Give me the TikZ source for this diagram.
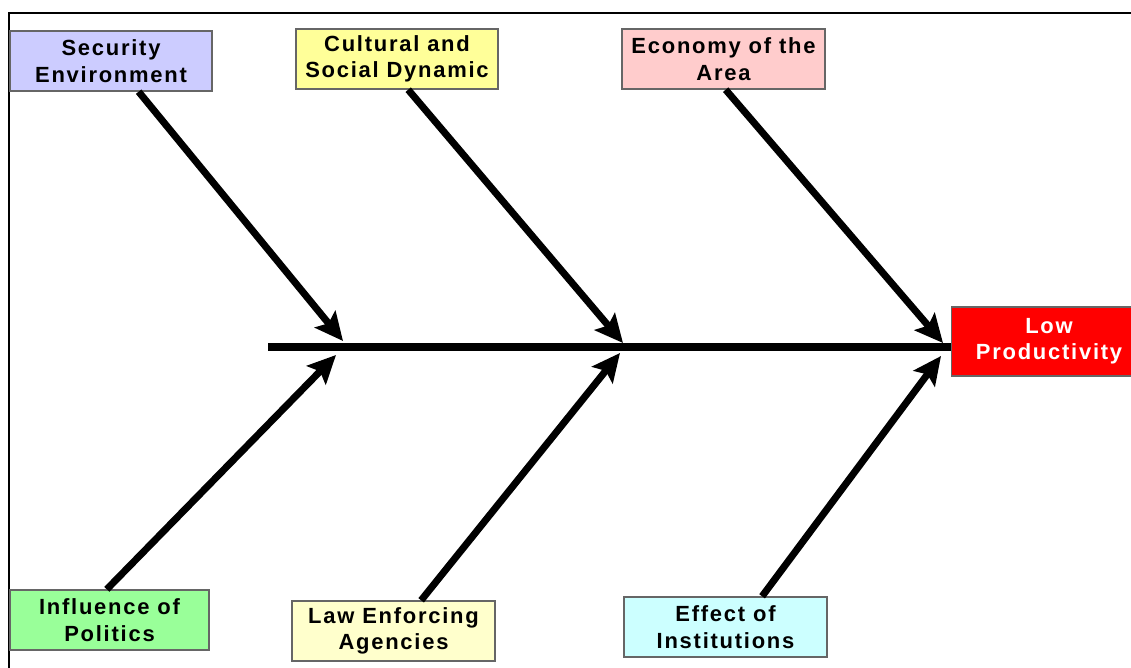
\documentclass[tikz,border=0pt]{standalone}
\usepackage{fontspec}
\newfontfamily\causefont{Liberation Sans}[LetterSpace=8.0]
\usepackage{tikz}
\usetikzlibrary{arrows.meta,positioning}
\usepackage{xcolor}
\definecolor{fbviolet}{RGB}{204,204,255}
\definecolor{fbyellow}{RGB}{255,255,153}
\definecolor{fbpink}{RGB}{255,204,204}
\definecolor{fbgreen}{RGB}{153,255,153}
\definecolor{fbcream}{RGB}{255,255,204}
\definecolor{fbcyan}{RGB}{204,255,255}
\definecolor{fbred}{RGB}{255,0,0}
\tikzstyle{cause} = [rectangle, minimum width=4.04cm, minimum height=1.2cm, inner sep=0pt, text centered, align=center, draw=black!60, line width=0.8pt, font=\causefont\bfseries\fontsize{12.5}{15}\selectfont]
\tikzstyle{problem} = [cause, minimum width=3.9cm, minimum height=1.38cm, fill=fbred, text=white]
\tikzstyle{arrow} = [line width=4pt, -{Stealth[length=16pt,width=15pt,inset=3pt]}]
\tikzstyle{spine} = [line width=4pt]

\begin{document}
\begin{tikzpicture}[x=0.02cm, y=-0.02cm]
\useasboundingbox (0,0) rectangle (1131,668);
% Frame
\draw[line width=1.4pt] (9,668) -- (9,13) -- (1131,13);

% Cause boxes
\node (sec) [cause, fill=fbviolet] at (111,61) {Security\\Environment};
\node (cul) [cause, fill=fbyellow] at (397,59) {Cultural and\\Social Dynamic};
\node (eco) [cause, fill=fbpink, minimum width=4.06cm] at (723.5,59) {Economy of the\\Area};
\node (pol) [cause, fill=fbgreen, minimum width=3.98cm] at (109.5,620) {Influence of\\Politics};
\node (law) [cause, fill=fbcream, minimum width=4.06cm] at (393.5,631) {Law Enforcing\\Agencies};
\node (ins) [cause, fill=fbcyan, minimum width=4.06cm] at (725.5,627) {Effect of\\Institutions};
\node (low) [problem] at (1049,341.5) {Low\\Productivity};

% Spine
\coordinate (tail) at (268,347);
\coordinate (s1u) at (343,341);
\coordinate (s1d) at (336,355);
\coordinate (s2u) at (623,343);
\coordinate (s2d) at (620,353);
\coordinate (s3u) at (943,343);
\coordinate (s3d) at (941,356);
\draw[spine] (tail) -- (tail -| low.west);

% Arrows
\draw[arrow] (sec.-48) -- (s1u);
\draw[arrow] (cul.-70) -- (s2u);
\draw[arrow] (eco.-86) -- (s3u);
\draw[arrow] (pol.95) -- (s1d);
\draw[arrow] (law.48) -- (s2d);
\draw[arrow] (ins.40) -- (s3d);
\end{tikzpicture}
\end{document}
